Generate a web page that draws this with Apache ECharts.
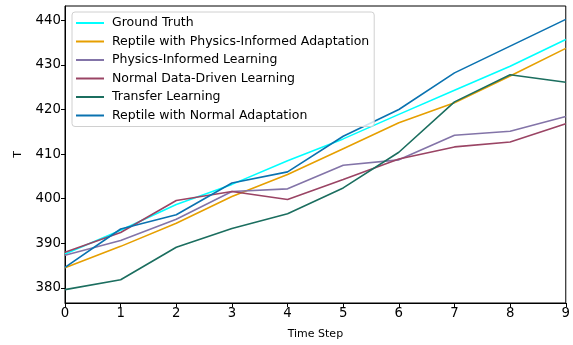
<!DOCTYPE html>
<html>
<head>
<meta charset="utf-8">
<script src="https://cdn.jsdelivr.net/npm/echarts@6/dist/echarts.min.js"></script>
<style>
  html, body { margin: 0; padding: 0; background: #fff; }
  #chart { width: 573px; height: 345px; }
</style>
</head>
<body>
<div id="chart"></div>
<script>
// Time steps on the x axis
const timeSteps = [0, 1, 2, 3, 4, 5, 6, 7, 8, 9];

// Predicted temperature T per method
const groundTruth      = [387.6, 392.9, 398.7, 403.2, 408.5, 413.4, 418.9, 424.3, 429.7, 435.7];
const reptilePhysics   = [384.5, 389.3, 394.5, 400.5, 405.4, 411.2, 417.0, 421.5, 427.5, 433.7];
const physicsInformed  = [387.3, 390.6, 395.4, 401.6, 402.2, 407.5, 408.7, 414.2, 415.1, 418.4];
const normalDataDriven = [388.0, 392.4, 399.6, 401.6, 399.8, 404.3, 408.9, 411.6, 412.7, 416.8];
const transferLearning = [379.6, 381.8, 389.1, 393.3, 396.6, 402.4, 410.4, 421.7, 427.8, 426.1];
const reptileNormal    = [384.6, 393.2, 396.4, 403.5, 406.0, 414.0, 420.0, 428.2, 434.2, 440.2];

const seriesNames = [
  'Ground Truth',
  'Reptile with Physics-Informed Adaptation',
  'Physics-Informed Learning',
  'Normal Data-Driven Learning',
  'Transfer Learning',
  'Reptile with Normal Adaptation'
];
const seriesValues = [groundTruth, reptilePhysics, physicsInformed, normalDataDriven, transferLearning, reptileNormal];
const seriesColors = ['#00ffff', '#e69f00', '#8374a8', '#9a4464', '#1b6e5f', '#0a72b0'];

// Y tick labels
const yTicks = [380, 390, 400, 410, 420, 430, 440];

const font = 'DejaVu Sans';

const chart = echarts.init(document.getElementById('chart'), null, { renderer: 'canvas' });

chart.setOption({
  animation: false,
  backgroundColor: '#ffffff',
  grid: {
    left: 65, right: 7, top: 6, bottom: 41,
    show: true, borderColor: '#000', borderWidth: 1, backgroundColor: 'transparent'
  },
  legend: {
    orient: 'vertical',
    left: 72, top: 12,
    padding: [3, 5, 3, 4],
    itemGap: 2.5,
    itemWidth: 28, itemHeight: 2,
    icon: 'rect',
    backgroundColor: 'rgba(255,255,255,0.8)',
    borderColor: '#d0d0d0', borderWidth: 1, borderRadius: 3,
    textStyle: { fontFamily: font, fontSize: 12.5, color: '#000', lineHeight: 16, padding: [0, 0, 0, 3] },
    data: seriesNames,
    z: 10
  },
  xAxis: {
    type: 'value',
    min: 0, max: 9, interval: 1,
    name: 'Time Step',
    nameLocation: 'middle',
    nameGap: 26,
    nameTextStyle: { fontFamily: font, fontSize: 11, color: '#000' },
    axisLine: { show: true, lineStyle: { color: '#000', width: 1 } },
    axisTick: { show: true, inside: false, length: 4, lineStyle: { color: '#000' } },
    axisLabel: { fontFamily: font, fontSize: 13.3, color: '#000', margin: 4 },
    splitLine: { show: false }
  },
  yAxis: {
    type: 'value',
    min: 376.6, max: 443.2,
    name: 'T',
    nameLocation: 'middle',
    nameGap: 41,
    nameTextStyle: { fontFamily: font, fontSize: 11, color: '#000' },
    axisLine: { show: true, lineStyle: { color: '#000', width: 1 } },
    axisTick: { show: true, inside: false, length: 4, customValues: yTicks, lineStyle: { color: '#000' } },
    axisLabel: { fontFamily: font, fontSize: 13.3, color: '#000', margin: 4, customValues: yTicks },
    splitLine: { show: false }
  },
  series: seriesNames.map((name, i) => ({
    name: name,
    type: 'line',
    data: timeSteps.map((t, j) => [t, seriesValues[i][j]]),
    symbol: 'none',
    lineStyle: { width: 1.6, color: seriesColors[i] },
    itemStyle: { color: seriesColors[i] },
    z: 2 + i
  }))
});
</script>
</body>
</html>
